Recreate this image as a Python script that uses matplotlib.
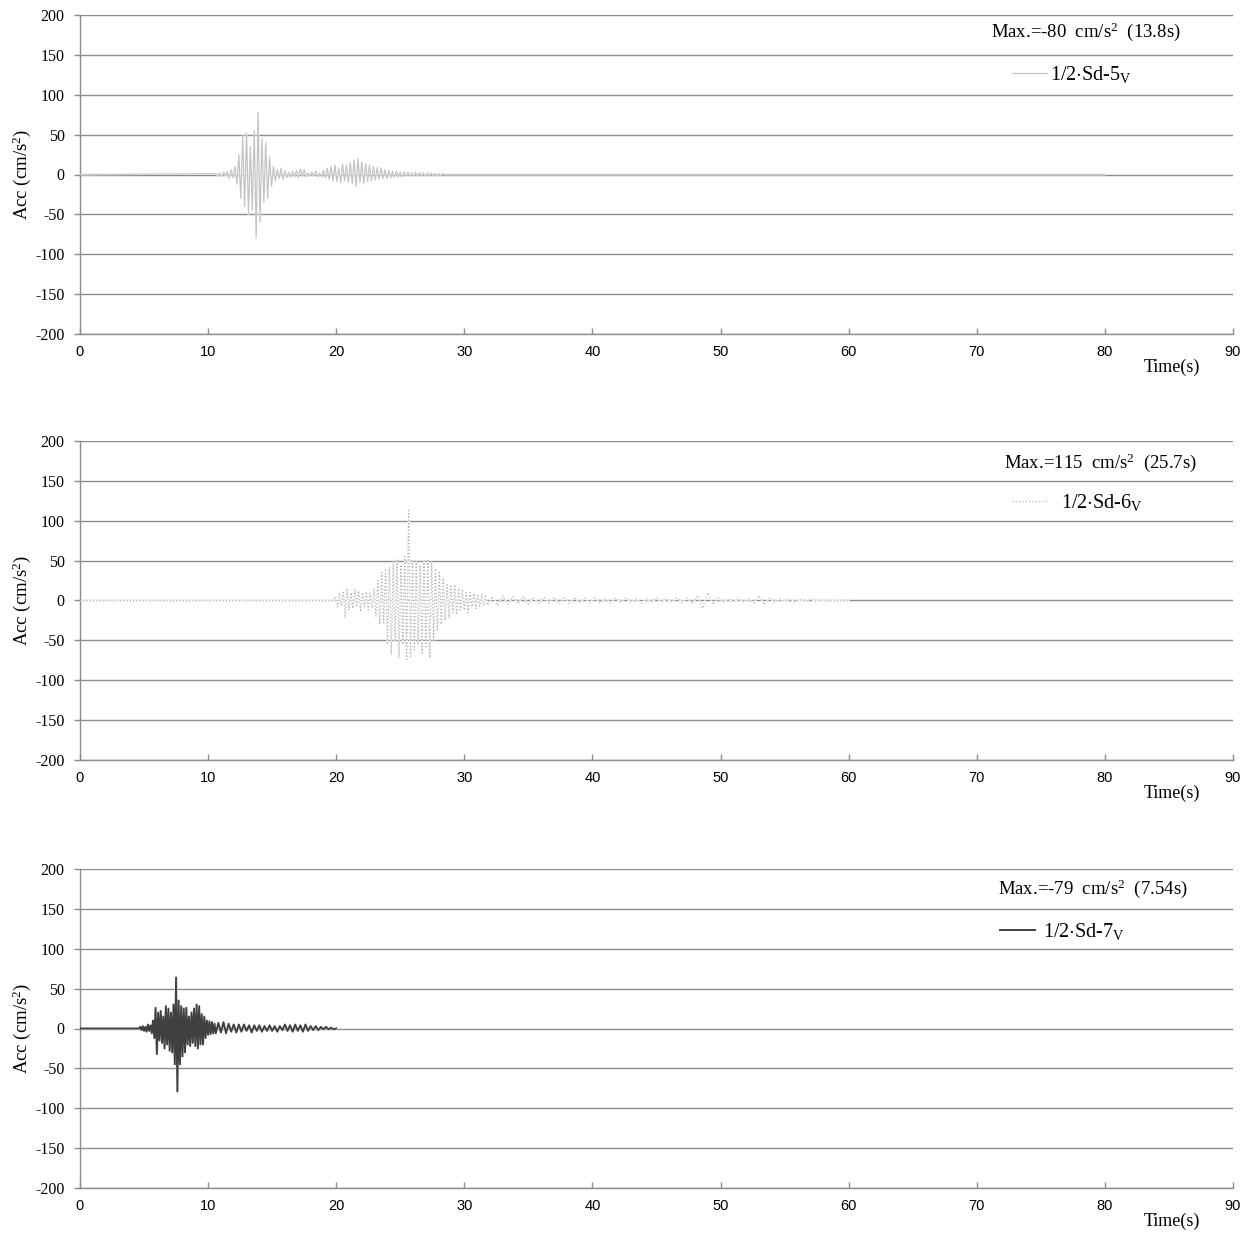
import numpy as np
import matplotlib
matplotlib.use("Agg")
import matplotlib.pyplot as plt

# time axis / value axis
x_ticks = [0, 10, 20, 30, 40, 50, 60, 70, 80, 90]
y_ticks = [-200, -150, -100, -50, 0, 50, 100, 150, 200]

sd5_t0 = 10.6
sd5_dt = 0.15
sd5_acc = [1, -2, 2, -3, 3, -2, 4, -5, 6, -4,
           10, -12, 25, -30, 48, -40, 52, -50, 35, -45,
           55, -80, 78, -60, 45, -35, 40, -30, 22, -15,
           10, -8, 6, -5, 8, -6, 5, -4, 3, -3,
           4, -3, 5, -4, 7, -2, 6, -3, 2, -2,
           3, -2, 4, -3, 2, -3, 5, -4, 8, -6,
           10, -8, 12, -9, 8, -10, 13, -8, 12, -10,
           15, -12, 18, -15, 20, -10, 16, -12, 14, -9,
           12, -8, 10, -7, 9, -6, 8, -5, 6, -5,
           5, -4, 4, -3, 4, -3, 3, -3, 3, -2,
           3, -2, 2, -2, 3, -2, 2, -1, 2, -2,
           2, -1, 2, -1, 1, -1, 1, -1, 1, 0]
sd5_end = 80.0

# 1/2 Sd-6V
sd6_main_t0 = 19.8
sd6_main_dt = 0.15
sd6_main_acc = [0, 5, -8, 10, -6, 12, -22, 15, -12, 10,
                -10, 14, -8, 12, -14, 10, -8, 11, -12, 9,
                -10, 15, -20, 25, -30, 35, -28, 40, -55, 42,
                -68, 48, -50, 52, -72, 45, -55, 55, -74, 115,
                -70, 50, -62, 48, -55, 45, -66, 50, -58, 52,
                -72, 48, -50, 40, -38, 35, -30, 28, -25, 20,
                -22, 18, -15, 20, -18, 15, -12, 14, -12, 10,
                -15, 10, -8, 9, -10, 8, -7, 8, -6, 7]
sd6_tail_t0 = 31.8
sd6_tail_dt = 0.4
sd6_tail_acc = [-6, 5, -6, 6, -5, 5, -4, 5, -5, 4,
                -4, 4, -3, 4, -4, 3, -3, 4, -3, 3,
                -3, 3, -3, 2, -3, 3, -2, 3, -2, 2,
                -3, 2, -2, 3, -2, 2, -2, 3, -2, 3,
                -4, 6, -10, 10, -5, 3, -2, 2, -2, 2,
                -2, 2, -3, 6, -5, 3, -2, 2, -1, 2,
                -2, 1, -1, 2, -1, 1, -1, 1, -1, 1]
sd6_end = 60.0

# 1/2 Sd-7V
sd7_main_t0 = 4.6
sd7_main_dt = 0.1
sd7_main_acc = [0, 2, -2, 3, -3, 2, -4, 5, -3, 4,
                -6, 10, -12, 26, -32, 20, -15, 22, -18, 15,
                -25, 28, -20, 25, -28, 20, -30, 30, -45, 64,
                -79, 35, -45, 28, -35, 25, -30, 26, -20, 15,
                -22, 20, -18, 25, -22, 30, -25, 28, -20, 18,
                -20, 15, -12, 10, -8, 9, -7, 8, -6, 6]
sd7_tail_t0 = 10.6
sd7_tail_dt = 0.2
sd7_tail_acc = [-6, 7, -5, 8, -6, 6, -4, 5, -5, 5,
                -4, 5, -3, 4, -5, 4, -3, 4, -4, 3,
                -3, 4, -3, 3, -4, 3, -2, 5, -3, 4,
                -4, 5, -3, 4, -4, 5, -3, 3, -2, 3,
                -2, 2, -1, 2, -1, 1, -1]
sd7_end = 20.0

labels = [r"1/2$\cdot$Sd-5$_{\rm V}$", r"1/2$\cdot$Sd-6$_{\rm V}$", r"1/2$\cdot$Sd-7$_{\rm V}$"]
max_texts = [r"Max.=-80  cm/s$^2$  (13.8s)", r"Max.=115  cm/s$^2$  (25.7s)",
             r"Max.=-79  cm/s$^2$  (7.54s)"]

GRID = "#8c8c8c"
SERIF = "Liberation Serif"

plt.rcParams["mathtext.fontset"] = "custom"
plt.rcParams["mathtext.rm"] = SERIF
plt.rcParams["mathtext.it"] = SERIF + ":italic"
plt.rcParams["axes.unicode_minus"] = False


def build(segments, t_end):
    t = [0.0]
    a = [0.0]
    for t0, dt, vals in segments:
        t += list(t0 + dt * np.arange(len(vals)))
        a += list(vals)
    t.append(t_end)
    a.append(0.0)
    return np.array(t), np.array(a)


def style_axes(ax):
    ax.set_xlim(0, 90)
    ax.set_ylim(-200, 200)
    ax.set_xticks(x_ticks)
    ax.set_yticks(y_ticks)
    for s in ["top", "right"]:
        ax.spines[s].set_visible(False)
    for s in ["left", "bottom"]:
        ax.spines[s].set_color(GRID)
        ax.spines[s].set_linewidth(1.0)
    ax.yaxis.grid(True, color=GRID, lw=1.0, zorder=0)
    ax.set_axisbelow(True)
    ax.tick_params(axis="y", direction="out", length=4, width=1.0, color=GRID, pad=7)
    ax.tick_params(axis="x", direction="in", length=4, width=1.0, color=GRID, pad=8)
    for lab in ax.get_yticklabels():
        lab.set_fontfamily(SERIF)
        lab.set_fontsize(11.5)
    for lab in ax.get_xticklabels():
        lab.set_fontfamily("Liberation Sans")
        lab.set_fontsize(10.5)
    ax.set_ylabel(r"Acc (cm/s$^2$)", fontfamily=SERIF, fontsize=13.5, labelpad=2)
    ax.text(0.947, -0.103, "Time(s)", transform=ax.transAxes, ha="center", va="center",
            fontfamily=SERIF, fontsize=13)


def main():
    fig = plt.figure(figsize=(12.55, 12.33), dpi=100)
    left, width, height = 80 / 1255, 1153 / 1255, 319 / 1233
    bottoms = [1 - 334 / 1233, 1 - 760 / 1233, 1 - 1188 / 1233]

    traces = [
        build([(sd5_t0, sd5_dt, sd5_acc)], sd5_end),
        build([(sd6_main_t0, sd6_main_dt, sd6_main_acc),
               (sd6_tail_t0, sd6_tail_dt, sd6_tail_acc)], sd6_end),
        build([(sd7_main_t0, sd7_main_dt, sd7_main_acc),
               (sd7_tail_t0, sd7_tail_dt, sd7_tail_acc)], sd7_end),
    ]
    styles = [dict(color="#c4c4c4", lw=0.9, ls="-"),
              dict(color="#b4b4b4", lw=0.9, ls=":"),
              dict(color="#404040", lw=1.4, ls="-")]
    max_pos = [((1086 - 80) / 1153, 0.947), ((1100 - 80) / 1153, 0.931),
               ((1093 - 80) / 1153, 0.937)]
    leg_x = [(1012 - 80) / 1153, (1012 - 80) / 1153, (1000 - 80) / 1153]
    leg_y = [0.812, 0.808, 0.805]
    text_pad = [0.15, 0.7, 0.4]

    for i in range(3):
        ax = fig.add_axes([left, bottoms[i], width, height])
        style_axes(ax)
        t, a = traces[i]
        # white underlay so the trace hides the zero gridline like the original
        ax.plot(t, a, color="white", lw=styles[i]["lw"] + 0.4, zorder=2)
        ax.plot(t, a, label=labels[i], zorder=3, **styles[i])
        ax.text(max_pos[i][0], max_pos[i][1], max_texts[i], transform=ax.transAxes,
                ha="center", va="center", fontfamily=SERIF, fontsize=13.5)
        ax.legend(loc="center left", bbox_to_anchor=(leg_x[i], leg_y[i]),
                  frameon=False, borderpad=0, borderaxespad=0,
                  handlelength=1.75, handletextpad=text_pad[i],
                  prop={"family": SERIF, "size": 14.5})

    fig.savefig("out.png", dpi=100)


if __name__ == '__main__':
    main()
